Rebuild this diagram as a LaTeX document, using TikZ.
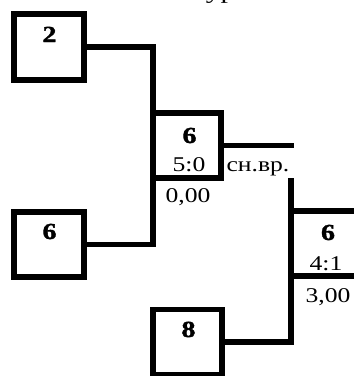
\documentclass[tikz,border=0pt]{standalone}
\usepackage{fontspec}
\setmainfont{Liberation Serif}[BoldFont={Liberation Serif Bold}, BoldFeatures={FakeBold=1.3}]
\newcommand{\numtx}[1]{\scalebox{1.22}[1]{\fontsize{23}{26}\selectfont\bfseries #1}}
\newcommand{\plaintx}[1]{\scalebox{1.22}[1]{\fontsize{21}{24}\selectfont #1}}
\begin{document}
\begin{tikzpicture}[x=1pt,y=-1pt,
  thick line/.style={line width=5.5pt},
  sbox/.style={draw, line width=5.5pt, inner sep=0pt, outer sep=0pt, rectangle},
  txt/.style={inner sep=0pt, outer sep=0pt, anchor=base}]
\useasboundingbox (0,0) rectangle (354,376);
% boxes
\node[sbox, minimum width=70pt, minimum height=66pt] (b2) at (49,47) {};
\node[sbox, minimum width=70pt, minimum height=65pt] (b6l) at (49,244.5) {};
\node[sbox, minimum width=68pt, minimum height=65pt] (b6m) at (187,145.5) {};
\node[sbox, minimum width=69pt, minimum height=65pt] (b8) at (187.5,342) {};
\node[sbox, minimum width=109pt, minimum height=65pt] (bf) at (345.5,243.5) {};
% connector ends
\coordinate (sv) at (293.5,145.5);
\coordinate (ft) at (291,178);
% connectors
\draw[thick line] (b2.east) -| (b6m.north west) |- (b6l.east);
\draw[thick line] (b6m.east) -- (sv);
\draw[thick line] (ft) |- (b8.east);
% texts
\node[txt] (top) at (226,-1.5) {\scalebox{1.3}[1]{\fontsize{23}{26}\selectfont Тур В}};
\node[txt] (t2) at (49.5,42) {\numtx{2}};
\node[txt] (t6l) at (49.5,239) {\numtx{6}};
\node[txt] (t6m) at (189.5,143) {\numtx{6}};
\node[txt] (s50) at (189,171) {\plaintx{5:0}};
\node[txt] (s000) at (188,202) {\plaintx{0,00}};
\node[txt] (snvr) at (258,171) {\plaintx{сн.вр.}};
\node[txt] (tf) at (328,240) {\numtx{6}};
\node[txt] (s41) at (326,270) {\plaintx{4:1}};
\node[txt] (s300) at (328,302) {\plaintx{3,00}};
\node[txt] (t8) at (188.5,337) {\numtx{8}};
\end{tikzpicture}
\end{document}
